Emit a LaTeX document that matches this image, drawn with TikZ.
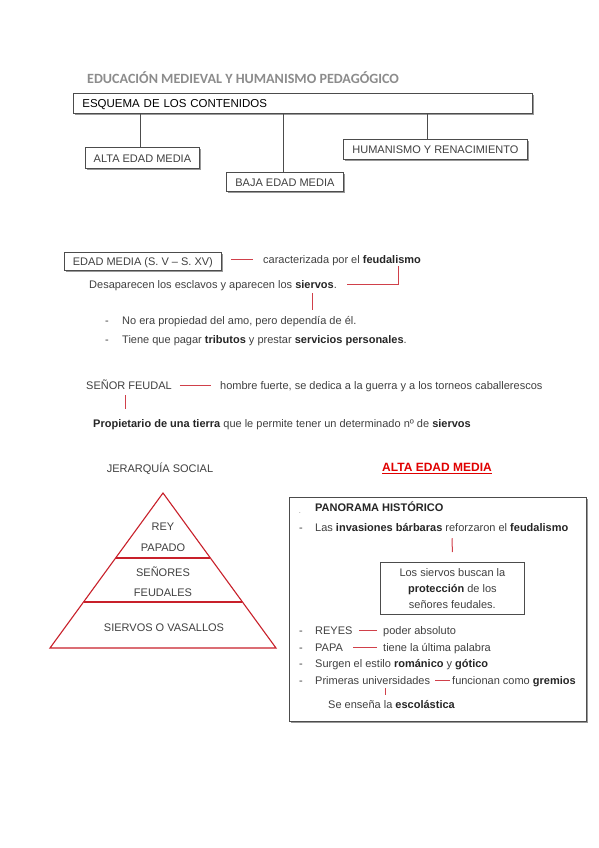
\documentclass[tikz,border=0pt]{standalone}
\usepackage{fontspec}
\setmainfont{Liberation Sans}
\newfontfamily\titlefont{Carlito}
\usetikzlibrary{shadows,calc}
\definecolor{txt}{HTML}{404040}
\definecolor{bld}{HTML}{262626}
\definecolor{rl}{HTML}{D0404A}
\definecolor{pyr}{HTML}{C8202A}
\definecolor{alta}{HTML}{E00000}
\newcommand\bw[1]{\textcolor{bld}{\bfseries #1}}
\begin{document}
\begin{tikzpicture}[x=1pt,y=-1pt,
  every node/.style={text=txt, font=\fontsize{11}{13}\selectfont, inner sep=0pt, text height=11pt, text depth=2.3pt},
  box/.style={draw=black!70, line width=0.8pt, fill=white,
    drop shadow={shadow xshift=1.3pt, shadow yshift=-1.3pt, fill=black!40, opacity=1}},
  redl/.style={draw=rl, line width=1pt},
  tree/.style={draw=black!70, line width=0.8pt},
  pyrl/.style={draw=pyr, line width=1.1pt}]
\useasboundingbox[fill=white] (0,0) rectangle (599,848);

% ---- header
\node[anchor=west, font=\titlefont\bfseries\fontsize{14.1}{16}\selectfont, text=black!45, text height=13pt, text depth=3pt] (title) at (87,79) {EDUCACIÓN MEDIEVAL Y HUMANISMO PEDAGÓGICO};
\node[box, anchor=north west, minimum height=20pt, text width=441pt, inner xsep=9pt, align=left,
  font=\fontsize{11.5}{13}\selectfont, text=black] (esq) at (73,93) {ESQUEMA DE LOS CONTENIDOS};
\node[box, anchor=north west, minimum width=114pt, minimum height=21pt] (alta) at (85,147) {ALTA EDAD MEDIA};
\node[box, anchor=north west, minimum width=117pt, minimum height=19pt] (baja) at (226,172) {BAJA EDAD MEDIA};
\node[box, anchor=north west, minimum width=184pt, minimum height=20pt] (hum) at (343,139) {HUMANISMO Y RENACIMIENTO};
\draw[tree] ([xshift=-2pt]alta.north) -- ([xshift=-2pt]alta.north |- esq.south);
\draw[tree] ([xshift=-1.5pt]baja.north) -- ([xshift=-1.5pt]baja.north |- esq.south);
\draw[tree] ([xshift=-8pt]hum.north) -- ([xshift=-8pt]hum.north |- esq.south);

% ---- edad media
\node[box, anchor=north west, minimum width=157pt, minimum height=18pt] (edad) at (64,252) {EDAD MEDIA (S. V -- S. XV)};
\node[anchor=west] (car) at (263,259) {caracterizada por el \bw{feudalismo}};
\draw[redl] ([xshift=9pt]edad.east |- car.west) -- ([xshift=-10pt]car.west);
\node[anchor=west] (desap) at (89,284) {Desaparecen los esclavos y aparecen los \bw{siervos}.};
\draw[redl] ($(car.south east)+(-23,0)$) |- ([xshift=10pt]desap.east);
\node[anchor=west] (d1) at (105,320) {-};
\node[anchor=west] (b1) at (122,320) {No era propiedad del amo, pero dependía de él.};
\node[anchor=west] (d2) at (105,339) {-};
\node[anchor=west] (b2) at (122,339) {Tiene que pagar \bw{tributos} y prestar \bw{servicios personales}.};
\draw[redl] ($(desap.south west)+(223,2.4)$) -- ($(b1.north west)+(190,-3.4)$);

% ---- señor feudal
\node[anchor=west] (sen) at (86,385) {SEÑOR FEUDAL};
\node[anchor=west] (hom) at (220,385) {hombre fuerte, se dedica a la guerra y a los torneos caballerescos};
\draw[redl] ([xshift=8pt]sen.east) -- ([xshift=-9pt]hom.west);
\node[anchor=west] (prop) at (93,423) {\bw{Propietario de una tierra} que le permite tener un determinado nº de \bw{siervos}};
\draw[redl] ($(sen.south west)+(39,3.4)$) -- ($(prop.north west)+(32,-7.4)$);

% ---- pyramid
\node (jer) at (160,468) {JERARQUÍA SOCIAL};
\coordinate (apex) at (163,493);
\coordinate (bl) at (50,648);
\coordinate (br) at (276,648);
\draw[pyrl] (apex) -- (br) -- (bl) -- cycle;
\draw[pyrl] ($(apex)!0.419!(bl)$) -- ($(apex)!0.419!(br)$);
\draw[pyrl] ($(apex)!0.703!(bl)$) -- ($(apex)!0.703!(br)$);
\node (rey) at (163,526) {REY};
\node (pap) at (163,547) {PAPADO};
\node (sen2) at (163,572) {SEÑORES};
\node (feu) at (163,592) {FEUDALES};
\node (vas) at (164,627) {SIERVOS O VASALLOS};

% ---- alta edad media
\node[font=\bfseries\fontsize{12}{14}\selectfont, text=alta, text height=11pt] (altat) at (437,467) {\underline{ALTA EDAD MEDIA}};
\node[box, anchor=north west, minimum width=297pt, minimum height=224pt, text height=0pt, text depth=0pt] (pan) at (289,497) {};
\node[anchor=west, font=\fontsize{6}{7}\selectfont] (p0) at (299,509) {.};
\node[anchor=west] (p1) at (315,507) {\bw{PANORAMA HISTÓRICO}};
\node[anchor=west] (dd1) at (299,527) {-};
\node[anchor=west] (p2) at (315,527) {Las \bw{invasiones bárbaras} reforzaron el \bw{feudalismo}};
\node[draw=black!70, line width=0.8pt, anchor=north west, minimum width=144pt, minimum height=52pt,
  align=center, font=\fontsize{11}{16}\selectfont, text height=, text depth=] (sb) at (380,562) {Los siervos buscan la\\ \bw{protección} de los\\ señores feudales.};
\draw[redl] ($(p2.south west)+(137,4.4)$) -- ($(sb.north)+(0,-10)$);
\node[anchor=west] (dd2) at (299,630) {-};
\node[anchor=west] (reyes) at (315,630) {REYES};
\node[anchor=west] (pod) at (383,630) {poder absoluto};
\draw[redl] ([xshift=-6pt]pod.west) -- ([xshift=-24pt]pod.west);
\node[anchor=west] (dd3) at (299,647) {-};
\node[anchor=west] (papa) at (315,647) {PAPA};
\node[anchor=west] (tie) at (383,647) {tiene la última palabra};
\draw[redl] ([xshift=-6pt]tie.west) -- ([xshift=-30pt]tie.west);
\node[anchor=west] (dd4) at (299,663) {-};
\node[anchor=west] (sur) at (315,663) {Surgen el estilo \bw{románico} y \bw{gótico}};
\node[anchor=west] (dd5) at (299,680) {-};
\node[anchor=west] (pri) at (315,680) {Primeras universidades};
\node[anchor=west] (fun) at (452,680) {funcionan como \bw{gremios}};
\draw[redl] ([xshift=-2pt]fun.west) -- ([xshift=-17pt]fun.west);
\node[anchor=west] (ens) at (328,704) {Se enseña la \bw{escolástica}};
\draw[redl] ($(pri.south west)+(70,1.4)$) -- ($(ens.north west)+(57,-2.4)$);
\end{tikzpicture}
\end{document}
